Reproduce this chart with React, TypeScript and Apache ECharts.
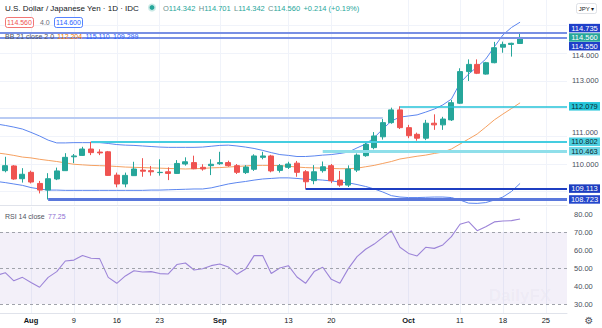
import React, { useEffect, useRef } from 'react';
import * as echarts from 'echarts';

const FONT = "'Liberation Sans', Arial, sans-serif";

// trading days on the x axis (Jul 27 .. Oct 27, 2021)
const dates = [
  '2021-07-27', '2021-07-28', '2021-07-29', '2021-07-30',
  '2021-08-02', '2021-08-03', '2021-08-04', '2021-08-05', '2021-08-06',
  '2021-08-09', '2021-08-10', '2021-08-11', '2021-08-12', '2021-08-13',
  '2021-08-16', '2021-08-17', '2021-08-18', '2021-08-19', '2021-08-20',
  '2021-08-23', '2021-08-24', '2021-08-25', '2021-08-26', '2021-08-27',
  '2021-08-30', '2021-08-31', '2021-09-01', '2021-09-02', '2021-09-03',
  '2021-09-06', '2021-09-07', '2021-09-08', '2021-09-09', '2021-09-10',
  '2021-09-13', '2021-09-14', '2021-09-15', '2021-09-16', '2021-09-17',
  '2021-09-20', '2021-09-21', '2021-09-22', '2021-09-23', '2021-09-24',
  '2021-09-27', '2021-09-28', '2021-09-29', '2021-09-30', '2021-10-01',
  '2021-10-04', '2021-10-05', '2021-10-06', '2021-10-07', '2021-10-08',
  '2021-10-11', '2021-10-12', '2021-10-13', '2021-10-14', '2021-10-15',
  '2021-10-18', '2021-10-19', '2021-10-20', '2021-10-21', '2021-10-22',
  '2021-10-25', '2021-10-26', '2021-10-27',
];

// OHLC (aligned with dates, first day has no candle)
const open = [null, 109.76, 109.93, 109.47,
  109.70, 109.30, 109.06, 109.46, 109.76,
  110.26, 110.31, 110.54, 110.43, 110.44,
  109.60, 109.28, 109.58, 109.78, 109.76,
  109.69, 109.72, 109.66, 110.00, 110.05,
  109.88, 109.94, 110.01, 110.05, 109.94,
  109.69, 109.81, 110.24, 110.29, 109.77,
  109.88, 110.03, 109.72, 109.40, 109.76,
  109.94, 109.42, 109.24, 109.78, 110.30,
  110.59, 110.98, 111.49, 111.95, 111.31,
  111.07, 110.93, 111.47, 111.41, 111.59,
  112.19, 113.33, 113.59, 113.24, 113.65,
  114.21, 114.31, 114.342];
const close = [null, 109.94, 109.46, 109.63,
  109.35, 109.06, 109.47, 109.75, 110.24,
  110.29, 110.54, 110.41, 110.40, 109.59,
  109.28, 109.59, 109.82, 109.74, 109.72,
  109.70, 109.66, 110.02, 110.08, 109.83,
  109.82, 109.99, 110.05, 109.94, 109.70,
  109.89, 110.29, 110.29, 109.75, 109.94,
  110.00, 109.70, 109.36, 109.72, 109.90,
  109.40, 109.24, 109.82, 110.32, 110.71,
  111.01, 111.49, 111.95, 111.31, 111.02,
  110.93, 111.47, 111.41, 111.62, 112.21,
  113.33, 113.59, 113.27, 113.65, 114.19,
  114.31, 114.35, 114.56];
const low = [null, 109.70, 109.43, 109.33,
  109.30, 108.94, 108.72, 109.42, 109.75,
  110.03, 110.29, 110.32, 110.32, 109.57,
  109.16, 109.16, 109.57, 109.54, 109.58,
  109.58, 109.42, 109.64, 109.94, 109.81,
  109.76, 109.60, 109.97, 109.90, 109.64,
  109.64, 109.75, 110.17, 109.70, 109.69,
  109.82, 109.54, 109.11, 109.27, 109.69,
  109.31, 109.18, 109.17, 109.71, 110.26,
  110.53, 110.88, 111.45, 111.26, 110.93,
  110.84, 110.86, 111.23, 111.23, 111.55,
  112.16, 112.99, 113.24, 113.22, 113.63,
  114.01, 113.87, 114.342];
const high = [null, 110.26, 109.96, 109.85,
  109.76, 109.39, 109.67, 109.87, 110.39,
  110.36, 110.62, 110.80, 110.53, 110.47,
  109.69, 109.69, 110.08, 110.21, 109.93,
  110.17, 109.88, 110.14, 110.24, 110.30,
  109.99, 110.17, 110.44, 110.12, 110.00,
  109.96, 110.35, 110.44, 110.33, 110.00,
  110.08, 110.11, 109.78, 109.96, 110.09,
  110.00, 109.75, 109.95, 110.38, 110.80,
  111.15, 111.62, 112.03, 112.08, 111.41,
  111.13, 111.59, 111.79, 111.70, 112.31,
  113.45, 113.77, 113.77, 113.68, 114.40,
  114.41, 114.37, 114.701];

// Bollinger Bands (21, 2)
const bbUpper = [111.44, 111.39, 111.33, 111.26,
  111.14, 111.01, 110.86, 110.76, 110.76,
  110.77, 110.77, 110.77, 110.77, 110.74,
  110.70, 110.68, 110.67, 110.65, 110.63,
  110.61, 110.60, 110.60, 110.60, 110.60,
  110.61, 110.64, 110.67, 110.68, 110.65,
  110.61, 110.56, 110.49, 110.41, 110.34,
  110.31, 110.27, 110.27, 110.29, 110.32,
  110.34, 110.38, 110.43, 110.58, 110.72,
  110.95, 111.26, 111.55, 111.69, 111.73,
  111.77, 111.87, 111.98, 112.13, 112.34,
  112.92, 113.24, 113.50, 113.78, 114.22,
  114.65, 114.92, 115.11];
const bbMiddle = [110.40, 110.36, 110.31, 110.25,
  110.22, 110.17, 110.13, 110.09, 110.04,
  109.99, 109.97, 109.95, 109.94, 109.93,
  109.91, 109.89, 109.88, 109.87, 109.86,
  109.85, 109.84, 109.83, 109.82, 109.83,
  109.84, 109.86, 109.87, 109.89, 109.91,
  109.93, 109.95, 109.95, 109.95, 109.94,
  109.92, 109.89, 109.87, 109.86, 109.85,
  109.84, 109.83, 109.83, 109.85, 109.90,
  109.95, 110.02, 110.09, 110.18, 110.23,
  110.28, 110.32, 110.38, 110.43, 110.54,
  110.72, 110.90, 111.08, 111.33, 111.59,
  111.80, 112.00, 112.204];
const bbLower = [109.37, 109.33, 109.28, 109.23,
  109.15, 109.10, 109.06, 109.06, 109.05,
  109.05, 109.05, 109.05, 109.05, 109.05,
  109.05, 109.05, 109.05, 109.05, 109.06,
  109.06, 109.07, 109.08, 109.09, 109.10,
  109.10, 109.14, 109.21, 109.28, 109.33,
  109.37, 109.42, 109.46, 109.48, 109.50,
  109.50, 109.48, 109.45, 109.44, 109.42,
  109.39, 109.35, 109.32, 109.26, 109.19,
  109.10, 108.99, 108.86, 108.81, 108.79,
  108.79, 108.80, 108.81, 108.81, 108.79,
  108.70, 108.59, 108.58, 108.61, 108.70,
  108.81, 109.01, 109.299];

// RSI 14
const rsi = [45.9, 47.4, 42.9, 44.8,
  41.9, 39.3, 44.8, 48.0, 53.9,
  54.4, 56.9, 55.4, 55.2, 44.8,
  41.5, 45.6, 48.5, 47.8, 48.0,
  46.9, 46.7, 51.9, 52.8, 48.9,
  49.6, 51.3, 52.2, 50.6, 46.5,
  49.4, 56.9, 56.9, 46.9, 50.0,
  51.3, 45.0, 41.5, 48.0, 50.4,
  43.7, 41.5, 49.8, 56.3, 60.4,
  63.3, 67.0, 70.7, 61.5, 58.1,
  56.7, 61.5, 60.9, 62.8, 67.4,
  74.3, 75.7, 70.7, 72.9, 75.6,
  76.1, 76.3, 77.25];

// x tick labels
const xTickDates = ['2021-08-02', '2021-08-09', '2021-08-16', '2021-08-23', '2021-09-01',
  '2021-09-13', '2021-09-20', '2021-10-01', '2021-10-11', '2021-10-18', '2021-10-25'];
const xTickLabels = ['Aug', '9', '16', '23', 'Sep', '13', '20', 'Oct', '11', '18', '25'];

// y ticks (grid) and the tick labels left visible by the price-scale boxes
const priceGridTicks = [109, 110, 111, 112, 113, 114, 115];
const priceLabelTicks = [110, 111, 113, 114];
const rsiTicks = [30, 40, 50, 60, 70, 80];
const rsiLevels = [70, 50, 30];

// horizontal levels
const levelValues = [114.735, 114.55, 112.079, 111.68, 110.802, 110.463, 109.113, 108.723];
const levelFrom = [null, null, '2021-09-30', null, '2021-08-11', '2021-09-17', '2021-09-15', '2021-08-04'];
const levelTo = [null, null, null, '2021-09-28', null, null, null, null];
const levelColors = ['#7890e4', '#7890e4', '#26c3d9', '#b9cbf3', '#45cde0', '#8fdfea', '#1f3fc2', '#5a78dc'];
const levelWidths = [2, 2, 1.5, 2, 2, 3, 2, 3];

// price-scale value boxes
const boxValues = [114.735, 114.56, 114.55, 112.079, 110.802, 110.463, 109.113, 108.723];
const boxBg = ['#1f3fc9', '#26a69a', '#1f3fc9', '#26c6da', '#4dd0e1', '#6fd8e7', '#1c3dc0', '#2447cc'];
const boxFg = ['#fff', '#fff', '#fff', '#0b2a30', '#0b2a30', '#0b2a30', '#fff', '#fff'];
const boxDy = [-4.5, 0, 8.5, 0, 0, 0, 0, 0];

const X_MIN = 0.387;
const X_MAX = 66.47;

export default function App() {
  const ref = useRef<HTMLDivElement>(null);
  useEffect(() => {
    const chart = echarts.init(ref.current!, undefined, { renderer: 'svg' });
    const idx = (d: string | null, dflt: number) => (d ? dates.indexOf(d) : dflt);
    const tickIdx = xTickDates.map((d) => dates.indexOf(d));
    const candles = open
      .map((o, k) => (o == null ? null : [k, o, close[k], low[k], high[k]]))
      .filter((d) => d !== null);
    const pair = (arr: number[]) => arr.map((v, k) => [k, v]);
    const bandDiff = bbUpper.map((v, k) => [k, +(v - bbLower[k]).toFixed(4)]);

    const gridColor = '#f0f3fa';
    const baseX = {
      type: 'value', min: X_MIN, max: X_MAX,
      axisTick: { show: false, customValues: tickIdx },
      splitLine: { show: true, lineStyle: { color: gridColor, width: 1 } },
      axisLine: { show: true, onZero: false, lineStyle: { color: '#e0e3eb' } },
    };
    const lblStyle = { fontSize: 7.5, fontFamily: FONT, color: '#4a4f5c' };

    chart.setOption({
      animation: false,
      backgroundColor: '#ffffff',
      grid: [
        { left: 0, right: 35, top: 0, height: 205 },
        { left: 0, right: 35, top: 207, height: 106 },
      ],
      xAxis: [
        { ...baseX, gridIndex: 0, axisLabel: { show: false } },
        {
          ...baseX, gridIndex: 1,
          axisLabel: {
            show: true, customValues: tickIdx, margin: 3, fontSize: 7.5, fontFamily: FONT, color: '#131722',
            formatter: (v: number) => {
              const s = xTickLabels[tickIdx.indexOf(Math.round(v))] ?? '';
              return isNaN(Number(s)) ? `{b|${s}}` : s;
            },
            rich: { b: { fontWeight: 'bold', fontSize: 7.5, fontFamily: FONT, color: '#131722' } },
          },
        },
      ],
      yAxis: [
        {
          type: 'value', gridIndex: 0, position: 'right', min: 108.5225, max: 115.91,
          axisLine: { show: false },
          axisTick: { show: false, customValues: priceGridTicks },
          splitLine: { show: true, lineStyle: { color: gridColor } },
          axisLabel: {
            customValues: priceLabelTicks, margin: 5, ...lblStyle,
            formatter: (v: number) => {
              const s = v.toFixed(3);
              if (v === 111) return `{up|${s}}`;
              if (v === 114) return `{dn|${s}}`;
              return s;
            },
            rich: {
              up: { ...lblStyle, padding: [0, 0, 7, 0] },
              dn: { ...lblStyle, padding: [5, 0, 0, 0] },
            },
          },
        },
        {
          type: 'value', gridIndex: 1, position: 'right', min: 25, max: 83.89,
          axisLine: { show: false },
          axisTick: { show: false, customValues: rsiTicks },
          splitLine: { show: false },
          axisLabel: {
            customValues: rsiTicks, margin: 7, ...lblStyle,
            formatter: (v: number) => v.toFixed(2),
          },
        },
      ],
      series: [
        {
          type: 'line', name: 'bbBase', xAxisIndex: 0, yAxisIndex: 0, stack: 'bb',
          data: pair(bbLower), symbol: 'none', lineStyle: { opacity: 0 }, silent: true, z: 1,
        },
        {
          type: 'line', name: 'bbFill', xAxisIndex: 0, yAxisIndex: 0, stack: 'bb',
          data: bandDiff, symbol: 'none', lineStyle: { opacity: 0 },
          areaStyle: { color: 'rgba(33,150,243,0.06)', opacity: 1 }, silent: true, z: 1,
        },
        {
          type: 'line', name: 'upper', xAxisIndex: 0, yAxisIndex: 0, data: pair(bbUpper),
          symbol: 'none', lineStyle: { color: '#5c86ef', width: 1 }, z: 2,
        },
        {
          type: 'line', name: 'lower', xAxisIndex: 0, yAxisIndex: 0, data: pair(bbLower),
          symbol: 'none', lineStyle: { color: '#5c86ef', width: 1 }, z: 2,
        },
        {
          type: 'line', name: 'basis', xAxisIndex: 0, yAxisIndex: 0, data: pair(bbMiddle),
          symbol: 'none', lineStyle: { color: '#f5a161', width: 1 }, z: 2,
        },
        {
          type: 'candlestick', name: 'USDJPY', xAxisIndex: 0, yAxisIndex: 0,
          data: candles, encode: { x: 0, y: [1, 2, 3, 4] }, barWidth: 5.5, z: 4,
          itemStyle: {
            color: '#26a69a', color0: '#ef5350', borderColor: '#26a69a', borderColor0: '#ef5350', borderWidth: 1,
          },
          markLine: {
            silent: true, symbol: ['none', 'none'], label: { show: false },
            data: levelValues.map((v, j) => [
              { coord: [idx(levelFrom[j], X_MIN), v], lineStyle: { color: levelColors[j], width: levelWidths[j], type: 'solid' } },
              { coord: [idx(levelTo[j], X_MAX), v] },
            ]),
          },
          markPoint: {
            silent: true,
            data: boxValues.map((v, j) => ({
              coord: [X_MAX, v], symbol: 'rect', symbolSize: [31, 8.5], symbolOffset: [17.5, boxDy[j]],
              itemStyle: { color: boxBg[j] },
              label: {
                show: true, position: 'inside', formatter: v.toFixed(3), color: boxFg[j],
                fontSize: 7.5, fontFamily: FONT,
              },
            })),
          },
        },
        {
          type: 'line', name: 'RSI', xAxisIndex: 1, yAxisIndex: 1, data: pair(rsi),
          symbol: 'none', lineStyle: { color: '#9c84d8', width: 1.1 }, z: 3,
          markLine: {
            silent: true, symbol: ['none', 'none'], label: { show: false },
            lineStyle: { color: '#a0a3ab', type: [3, 3], width: 1 },
            data: rsiLevels.map((v) => ({ yAxis: v })),
          },
          markArea: {
            silent: true, itemStyle: { color: 'rgba(126,87,194,0.09)' },
            data: [[{ yAxis: rsiLevels[2] }, { yAxis: rsiLevels[0] }]],
          },
        },
      ],
      graphic: [
        {
          type: 'text', x: 5, y: 8, z: 100,
          style: { text: 'U.S. Dollar / Japanese Yen · 1D · IDC', fill: '#131722', fontSize: 8, fontFamily: FONT, verticalAlign: 'middle' },
        },
        { type: 'circle', shape: { cx: 152, cy: 7.5, r: 4 }, style: { fill: 'rgba(38,166,154,0.25)' }, z: 100 },
        { type: 'circle', shape: { cx: 152, cy: 7.5, r: 2.4 }, style: { fill: '#26a69a' }, z: 101 },
        {
          type: 'text', x: 163, y: 8, z: 100,
          style: {
            text: '{l|O}{v|114.342} {l|H}{v|114.701} {l|L}{v|114.342} {l|C}{v|114.560} {v|+0.214 (+0.19%)}',
            verticalAlign: 'middle',
            rich: {
              l: { fill: '#6b8f8c', fontSize: 7.5, fontFamily: FONT },
              v: { fill: '#26a69a', fontSize: 7.5, fontFamily: FONT },
            },
          },
        },
        { type: 'rect', shape: { x: 5.5, y: 17.5, width: 28, height: 10, r: 2 }, style: { fill: '#fff', stroke: '#ef5350', lineWidth: 0.8 }, z: 100 },
        { type: 'text', x: 19.5, y: 22.5, z: 101, style: { text: '114.560', fill: '#ef5350', fontSize: 7, fontFamily: FONT, align: 'center', verticalAlign: 'middle' } },
        { type: 'text', x: 40, y: 22.5, z: 101, style: { text: '4.0', fill: '#6a6d78', fontSize: 7, fontFamily: FONT, verticalAlign: 'middle' } },
        { type: 'rect', shape: { x: 54.5, y: 17.5, width: 28, height: 10, r: 2 }, style: { fill: '#fff', stroke: '#2962ff', lineWidth: 0.8 }, z: 100 },
        { type: 'text', x: 68.5, y: 22.5, z: 101, style: { text: '114.600', fill: '#2962ff', fontSize: 7, fontFamily: FONT, align: 'center', verticalAlign: 'middle' } },
        {
          type: 'text', x: 5, y: 36, z: 100,
          style: {
            text: '{g|BB 21 close 2 0} {o|112.204} {b|115.110} {b|109.299}',
            verticalAlign: 'middle',
            rich: {
              g: { fill: '#50535e', fontSize: 7, fontFamily: FONT },
              o: { fill: '#f57c00', fontSize: 7, fontFamily: FONT },
              b: { fill: '#2962ff', fontSize: 7, fontFamily: FONT },
            },
          },
        },
        {
          type: 'text', x: 5, y: 216.5, z: 100,
          style: {
            text: '{g|RSI 14 close} {p|77.25}',
            verticalAlign: 'middle',
            rich: {
              g: { fill: '#50535e', fontSize: 7, fontFamily: FONT },
              p: { fill: '#8e6fd3', fontSize: 7, fontFamily: FONT },
            },
          },
        },
        { type: 'rect', shape: { x: 576.5, y: 3.5, width: 20, height: 10, r: 2 }, style: { fill: '#fff', stroke: '#d6d9e0', lineWidth: 0.8 }, z: 100 },
        { type: 'text', x: 586.5, y: 8.5, z: 101, style: { text: 'JPY ▾', fill: '#131722', fontSize: 6, fontFamily: FONT, align: 'center', verticalAlign: 'middle' } },
        { type: 'text', x: 520, y: 295, z: 0, style: { text: 'DailyFX', fill: 'rgba(120,123,134,0.05)', fontSize: 17, fontWeight: 'bold', fontFamily: FONT, align: 'center', verticalAlign: 'middle' } },
        { type: 'text', x: 589, y: 320, z: 100, style: { text: '⚙', fill: '#50535e', fontSize: 10, fontFamily: "'DejaVu Sans', sans-serif", align: 'center', verticalAlign: 'middle' } },
      ],
    });
    return () => chart.dispose();
  }, []);
  return <div ref={ref} style={{ position: 'fixed', left: 0, top: 0, width: 602, height: 328 }} />;
}
